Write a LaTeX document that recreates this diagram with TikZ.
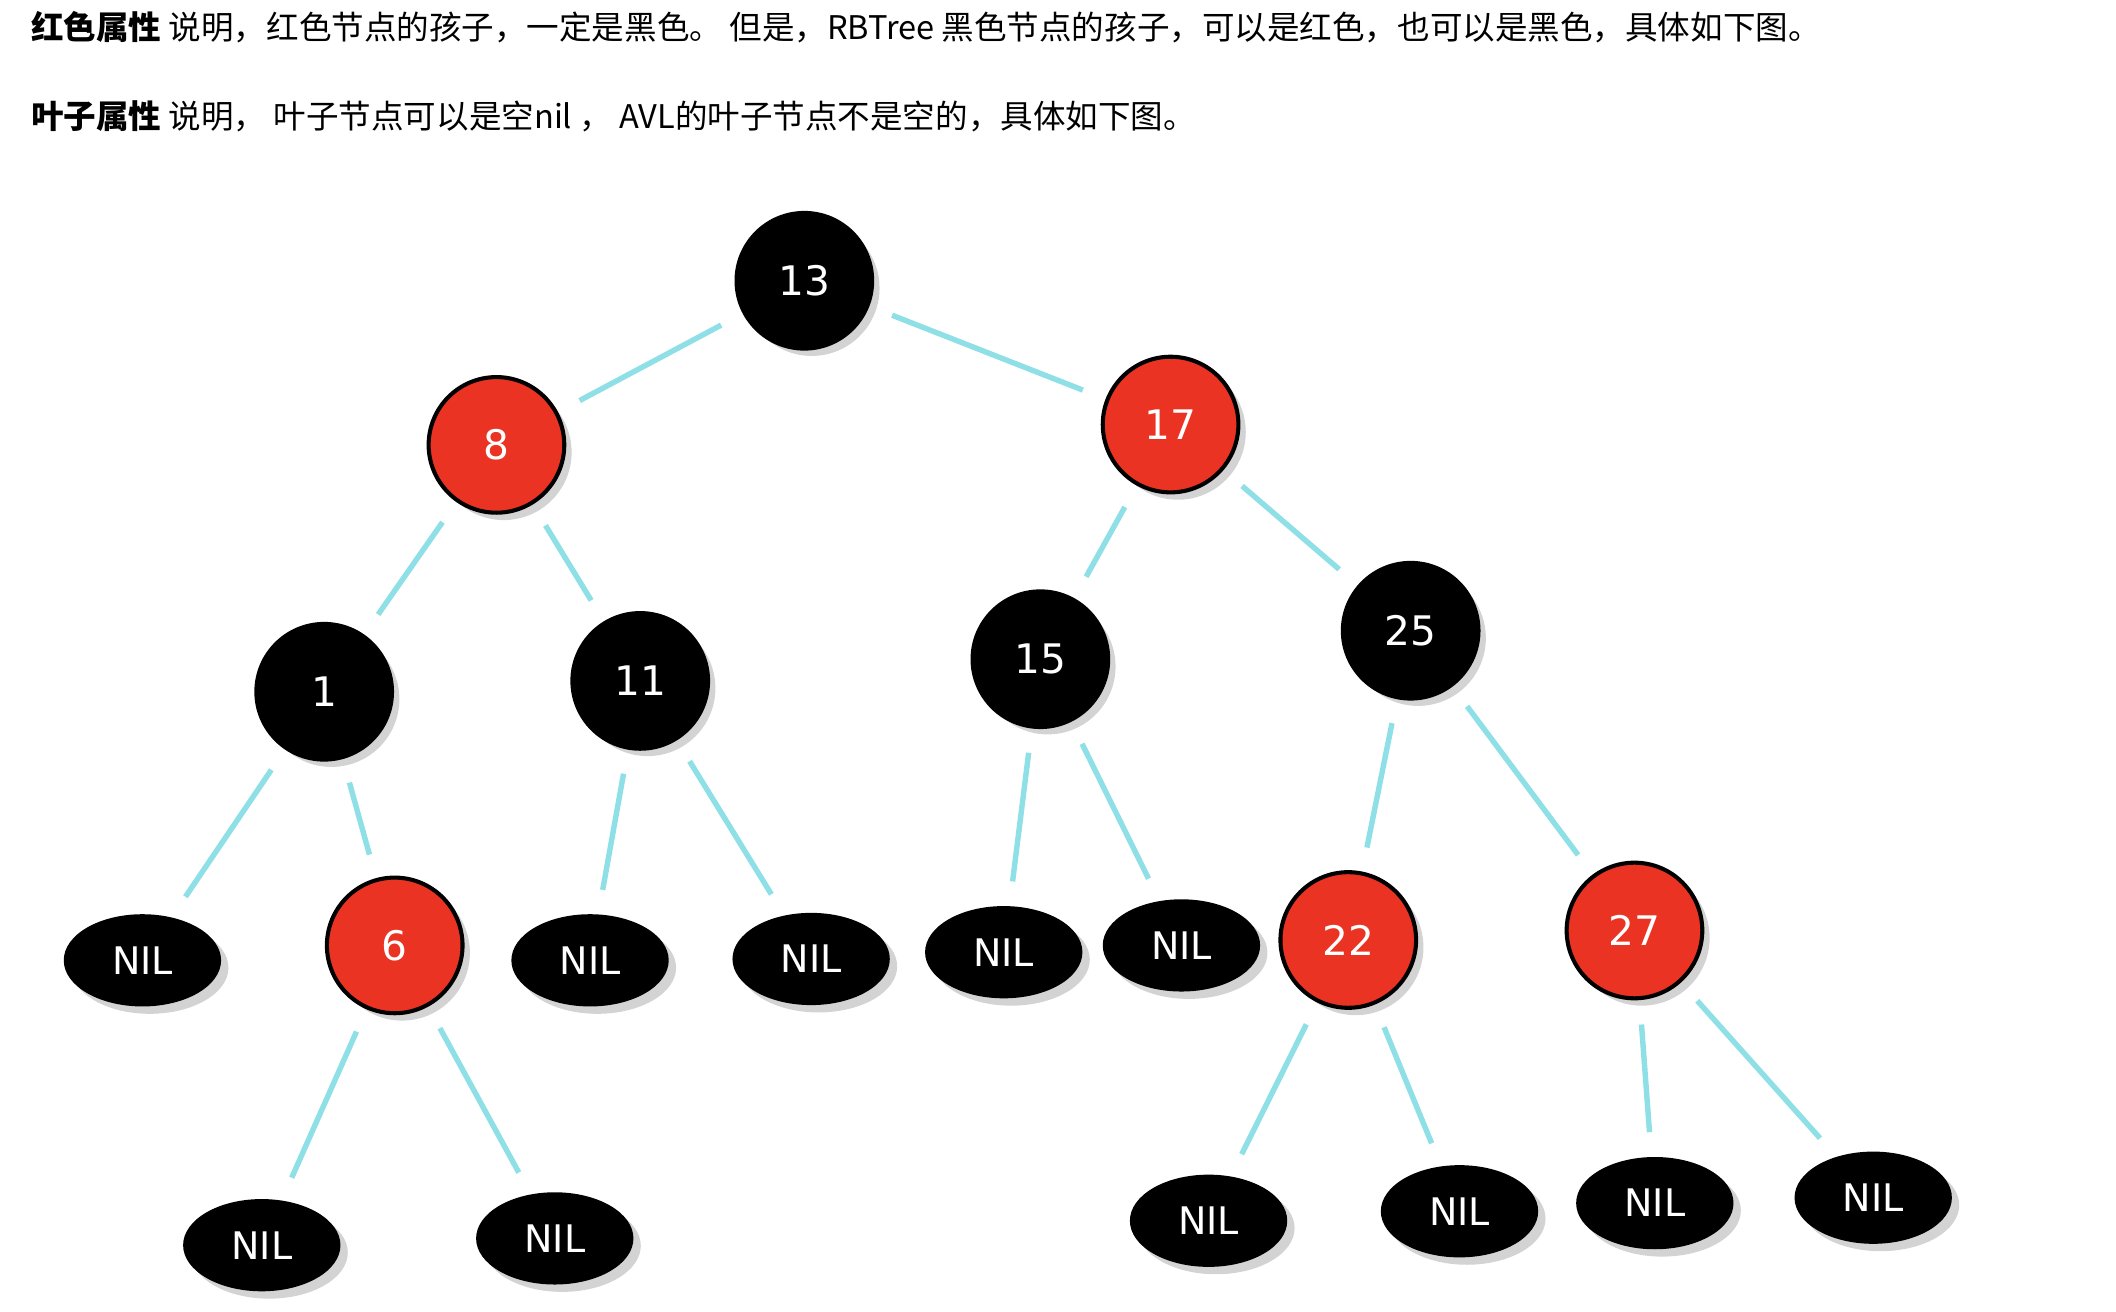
\documentclass[tikz,border=0pt]{standalone}
\usepackage{fontspec}
\setmainfont{Noto Sans CJK SC}
\newfontfamily\treefont{DejaVu Sans}
\usetikzlibrary{shadows}
\definecolor{rbred}{HTML}{EA3323}
\definecolor{edgecyan}{HTML}{8EDFE6}
\tikzset{
  blk/.style={circle, fill=black, draw=black, line width=1.5pt, minimum size=50pt, inner sep=0pt,
    text=white, font=\treefont\fontsize{15}{15}\selectfont, drop shadow={opacity=0.35}},
  rd/.style={blk, fill=rbred},
  nil/.style={ellipse, fill=black, minimum width=58pt, minimum height=34pt, inner sep=0pt,
    text=white, font=\treefont\fontsize{14}{14}\selectfont, drop shadow={opacity=0.35}},
  lnk/.style={draw=edgecyan, line width=2pt, shorten >=9pt, shorten <=9pt},
}
\usetikzlibrary{shapes.geometric}
\begin{document}
\begin{tikzpicture}[x=0.5pt,y=-0.5pt]
\useasboundingbox (0,0) rectangle (1560,967);
% header text
\node[anchor=west, font=\fontsize{12}{12}\selectfont] (t1) at (16,20) {\textbf{红色属性} 说明，红色节点的孩子，一定是黑色。 但是，RBTree 黑色节点的孩子，可以是红色，也可以是黑色，具体如下图。};
\node[anchor=west, font=\fontsize{12}{12}\selectfont] (t2) at (16,86) {\textbf{叶子属性} 说明， 叶子节点可以是空nil ， AVL的叶子节点不是空的，具体如下图。};
% nodes
\node[blk] (n13) at (593,207) {13};
\node[rd]  (n8)  at (366,328) {8};
\node[rd]  (n17) at (863,313) {17};
\node[blk] (n1)  at (239,510) {1};
\node[blk] (n11) at (472,502) {11};
\node[blk] (n15) at (767,486) {15};
\node[blk] (n25) at (1040,465) {25};
\node[rd]  (n6)  at (291,697) {6};
\node[rd]  (n22) at (994,693) {22};
\node[rd]  (n27) at (1205,686) {27};
\node[nil] (l1)  at (105,708) {NIL};
\node[nil] (l2)  at (435,708) {NIL};
\node[nil] (l3)  at (598,707) {NIL};
\node[nil] (l4)  at (740,702) {NIL};
\node[nil] (l5)  at (871,697) {NIL};
\node[nil] (l6)  at (193,918) {NIL};
\node[nil] (l7)  at (409,913) {NIL};
\node[nil] (l8)  at (891,900) {NIL};
\node[nil] (l9)  at (1076,893) {NIL};
\node[nil] (l10) at (1220,887) {NIL};
\node[nil] (l11) at (1381,883) {NIL};
% edges
\path[lnk] (n13) -- (n8);
\path[lnk] (n13) -- (n17);
\path[lnk] (n8) -- (n1);
\path[lnk] (n8) -- (n11);
\path[lnk] (n17) -- (n15);
\path[lnk] (n17) -- (n25);
\path[lnk] (n1) -- (l1);
\path[lnk] (n1) -- (n6);
\path[lnk] (n11) -- (l2);
\path[lnk] (n11) -- (l3);
\path[lnk] (n15) -- (l4);
\path[lnk] (n15) -- (l5);
\path[lnk] (n25) -- (n22);
\path[lnk] (n25) -- (n27);
\path[lnk] (n6) -- (l6);
\path[lnk] (n6) -- (l7);
\path[lnk] (n22) -- (l8);
\path[lnk] (n22) -- (l9);
\path[lnk] (n27) -- (l10);
\path[lnk] (n27) -- (l11);
\end{tikzpicture}
\end{document}
